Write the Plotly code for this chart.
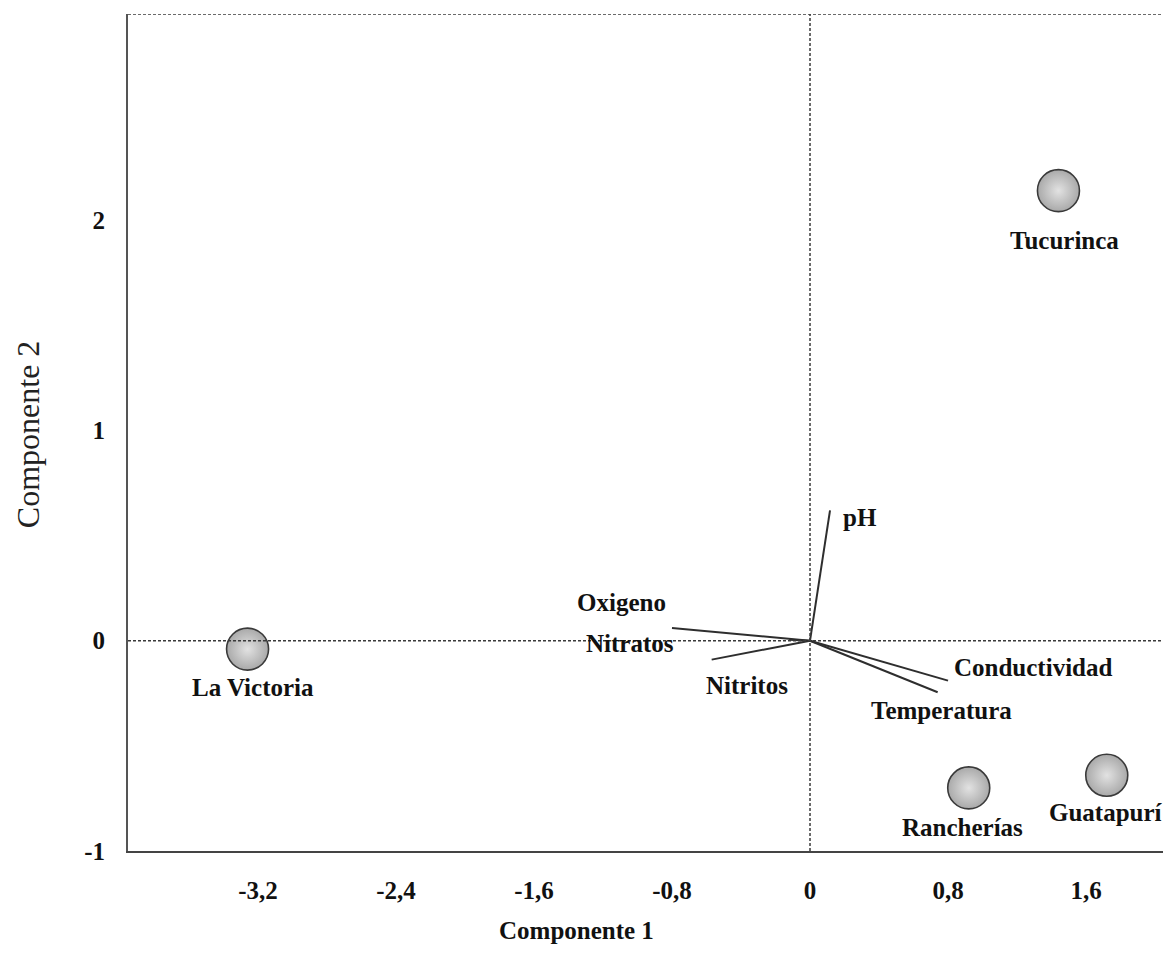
import plotly.graph_objects as go

# Sites (scores)
sites = ["La Victoria", "Tucurinca", "Rancherías", "Guatapurí"]
site_x = [-3.26, 1.44, 0.92, 1.72]
site_y = [-0.04, 2.14, -0.70, -0.64]

# Variables (loadings)
variables = ["pH", "Oxigeno", "Nitratos", "Nitritos", "Conductividad", "Temperatura"]
var_x = [0.116, -0.80, -0.12, -0.57, 0.80, 0.74]
var_y = [0.62, 0.06, 0.005, -0.09, -0.19, -0.245]

x_ticks = [-3.2, -2.4, -1.6, -0.8, 0, 0.8, 1.6]
x_tick_text = ["-3,2", "-2,4", "-1,6", "-0,8", "0", "0,8", "1,6"]
y_ticks = [-1, 0, 1, 2]
y_tick_text = ["-1", "0", "1", "2"]

# label offsets (pixels)
var_label_shift = [(30, -7), (-50, 26), (-159, -4), (35, -26), (85, 13), (4, -18)]
site_label_shift = [(5, -38), (6, -50), (-6, -40), (-1, -37)]

FONT = "Liberation Serif, Times New Roman, serif"
TXT = dict(family=FONT, size=25, color="#111111", weight="bold")

fig = go.Figure()

# loading vectors
lx, ly = [], []
for vx, vy in zip(var_x, var_y):
    lx += [0, vx, None]
    ly += [0, vy, None]
fig.add_trace(go.Scatter(x=lx, y=ly, mode="lines",
                         line=dict(color="#2e2e2e", width=2),
                         hoverinfo="skip", showlegend=False))

# site markers
fig.add_trace(go.Scatter(
    x=site_x, y=site_y, mode="markers",
    marker=dict(size=42, color="#a9a9a9",
                gradient=dict(type="radial", color="#e2e2e2"),
                line=dict(color="#3a3a3a", width=1.6)),
    showlegend=False))

for name, sx, sy, (dx, dy) in zip(sites, site_x, site_y, site_label_shift):
    fig.add_annotation(x=sx, y=sy, text=name, showarrow=False,
                       xshift=dx, yshift=dy, xanchor="center", yanchor="middle",
                       font=TXT)

for name, vx, vy, (dx, dy) in zip(variables, var_x, var_y, var_label_shift):
    fig.add_annotation(x=vx, y=vy, text=name, showarrow=False,
                       xshift=dx, yshift=dy, xanchor="center", yanchor="middle",
                       font=TXT)

XR = [-3.953, 2.046]
YR = [-1, 2.98]

dash = dict(color="#3a3a3a", width=1.5, dash="3px,2px")
fig.add_shape(type="line", x0=0, x1=0, y0=YR[0], y1=YR[1], line=dash, layer="above")
fig.add_shape(type="line", x0=XR[0], x1=XR[1], y0=0, y1=0, line=dash, layer="above")
fig.add_shape(type="line", x0=XR[0], x1=XR[1], y0=YR[1], y1=YR[1], line=dash, layer="above")

fig.add_annotation(text="Componente 1", xref="paper", yref="paper",
                   x=0.4329, y=-0.0944, showarrow=False,
                   xanchor="center", yanchor="middle", font=TXT)
fig.add_annotation(text="Componente 2", xref="paper", yref="paper",
                   x=-0.0966, y=0.498, showarrow=False, textangle=-90,
                   xanchor="center", yanchor="middle",
                   font=dict(family=FONT, size=32, color="#222222"))

fig.update_layout(
    width=1163, height=953, autosize=False,
    margin=dict(l=128, r=0, t=14, b=102),
    paper_bgcolor="white", plot_bgcolor="white",
    xaxis=dict(range=XR, showgrid=False, zeroline=False,
               tickvals=x_ticks, ticktext=x_tick_text,
               ticks="outside", ticklen=16, tickcolor="rgba(0,0,0,0)",
               tickfont=TXT,
               showline=True, linecolor="#444444", linewidth=2),
    yaxis=dict(range=YR, showgrid=False, zeroline=False,
               tickvals=y_ticks, ticktext=y_tick_text,
               ticks="outside", ticklen=16, tickcolor="rgba(0,0,0,0)",
               tickfont=TXT,
               showline=True, linecolor="#555555", linewidth=2),
)

fig.write_html("out.html")
